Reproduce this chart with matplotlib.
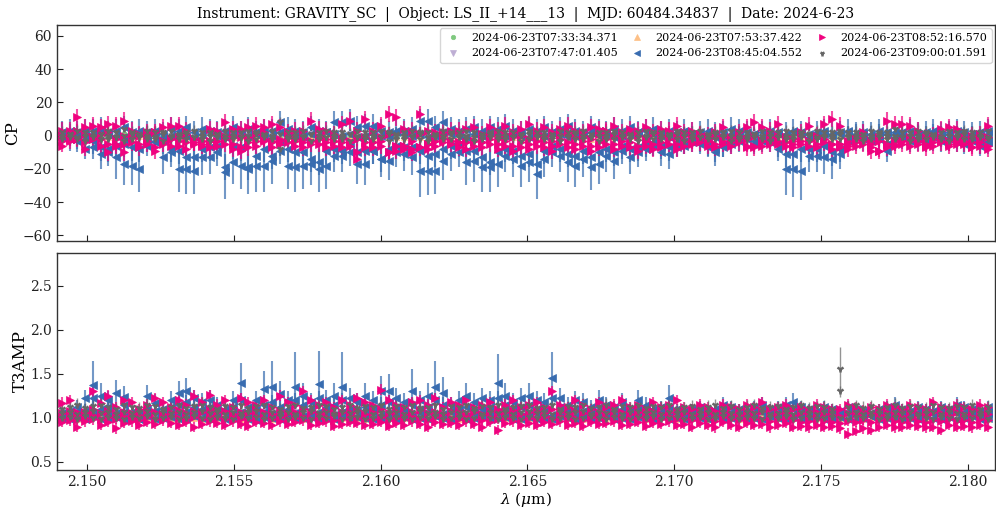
import matplotlib
matplotlib.use("Agg")
import matplotlib.pyplot as plt
from matplotlib.lines import Line2D
import numpy as np

plt.rcParams['font.family'] = ['DejaVu Serif']
plt.rcParams['mathtext.fontset'] = 'dejavuserif'

TITLE = "Instrument: GRAVITY_SC  |  Object: LS_II_+14___13  |  MJD: 60484.34837  |  Date: 2024-6-23"
OBS = ["2024-06-23T07:33:34.371", "2024-06-23T07:47:01.405", "2024-06-23T07:53:37.422",
       "2024-06-23T08:45:04.552", "2024-06-23T08:52:16.570", "2024-06-23T09:00:01.591"]

# wavelength channels (micron)
WL = [2.14914,2.14941,2.14967,2.14994,2.15020,2.15047,2.15073,2.15100,2.15126,2.15153,2.15179,2.15206,2.15232,2.15259,2.15285,2.15312,2.15338,2.15365,2.15391,2.15418,
      2.15444,2.15471,2.15497,2.15524,2.15550,2.15577,2.15603,2.15630,2.15656,2.15683,2.15709,2.15736,2.15762,2.15789,2.15815,2.15842,2.15868,2.15895,2.15921,2.15948,
      2.15974,2.16001,2.16027,2.16054,2.16080,2.16107,2.16133,2.16160,2.16186,2.16213,2.16239,2.16266,2.16292,2.16319,2.16345,2.16372,2.16398,2.16425,2.16451,2.16478,
      2.16504,2.16531,2.16557,2.16584,2.16610,2.16637,2.16663,2.16690,2.16716,2.16743,2.16769,2.16796,2.16822,2.16849,2.16875,2.16902,2.16928,2.16955,2.16981,2.17008,
      2.17034,2.17061,2.17087,2.17114,2.17140,2.17167,2.17193,2.17220,2.17246,2.17273,2.17299,2.17326,2.17352,2.17379,2.17405,2.17432,2.17458,2.17485,2.17511,2.17538,
      2.17564,2.17591,2.17617,2.17644,2.17670,2.17697,2.17723,2.17750,2.17776,2.17803,2.17829,2.17856,2.17882,2.17909,2.17935,2.17962,2.17988,2.18015,2.18041,2.18068]

# ---------------- CP (deg) ----------------
# obs 4 (08:45, blue), four triangles
cp_b1 = [-1,-2,-3,-8,-7,-11,-10,-13,-17,-18,-20,-6,-4,-13,-10,-20,-20,-21,-13,-13,
         -10,-22,-16,-18,-20,-18,-18,-15,-9,-18,-19,-18,-17,-20,-18,-12,-12,-5,-17,-17,
         -9,-14,-15,-10,-11,-13,-21,-21,-21,-15,-11,-10,-16,-15,-19,-19,-17,-12,-14,-18,
         -16,-23,-14,-10,-12,-16,-18,-14,-19,-17,-12,-15,-9,-13,-10,-8,-6,-10,-11,-7,
         -6,-4,-5,-7,-10,-7,-5,-3,-2,-5,-3,-4,-8,-20,-20,-21,-12,-12,-13,-14,
         -11,-3,-1,-2,-3,-2,-9,-2,-1,-3,-2,-4,-1,-3,-2,-4,-5,-3,-6,-4]
cp_b1_err = [4,4,5,6,7,9,8,13,13,12,14,6,5,10,9,14,15,14,11,10,
             8,16,13,14,15,16,16,14,8,14,15,14,13,14,14,10,10,6,12,13,
             8,11,12,9,10,11,16,15,14,12,10,9,14,13,15,15,14,10,11,13,
             12,15,11,9,10,12,13,11,14,12,10,11,8,10,9,7,6,8,9,6,
             5,4,5,6,8,6,5,4,4,5,4,4,7,16,17,18,10,10,10,12,
             9,4,3,3,4,3,7,3,3,4,3,4,3,4,3,4,5,4,5,4]
cp_b2 = [0,-1,-2,-2,-3,-7,-8,-6,-5,-7,-8,-2,-3,-3,-8,-9,-13,-13,-8,-7,
         -6,-19,-6,-7,-19,-12,-8,-12,-4,-8,-10,-10,-14,-16,-9,-8,-9,-10,-10,-9,
         -9,-14,-8,-6,-7,-7,-9,-12,-11,-8,-6,-5,-9,-9,-13,-16,-10,-8,-9,-12,
         -11,-17,-9,-6,-8,-11,-12,-9,-13,-10,-8,-10,-6,-8,-7,-5,-4,-6,-7,-4,
         -3,-2,-3,-4,-8,-5,-3,-2,-1,-3,-2,-2,-5,-11,-11,-8,-8,-8,-6,-10,
         -8,-2,-1,-1,-2,-1,-5,-1,0,-2,-1,-2,-1,-2,-1,-2,-3,-2,-4,-3]
cp_b3 = [1,2,1,0,1,2,1,0,-1,1,2,0,1,-1,0,1,0,-1,1,2,
         0,-1,1,2,0,1,-1,0,2,1,0,-1,1,0,2,1,0,1,-1,0,
         1,0,-1,2,1,0,1,-1,0,2,1,0,-1,1,0,2,1,0,1,0,
         -1,1,0,2,1,-1,0,1,2,0,1,-1,0,1,2,0,1,0,-1,1,
         2,1,0,1,-1,0,1,2,0,1,-1,0,1,0,2,1,-1,0,1,0,
         1,2,0,1,-1,0,1,2,1,0,1,-1,2,0,1,2,0,1,0,1]
cp_b4 = [2,3,2,3,3,4,2,3,5,2,3,2,3,1,4,3,5,2,4,3,
         2,3,5,2,4,2,3,3,8,4,3,2,5,3,2,8,8,9,5,6,
         6,3,2,3,3,4,9,9,5,8,4,3,4,5,3,5,4,6,3,2,
         4,3,5,2,4,6,3,2,5,3,2,4,3,5,2,3,4,2,3,2,
         3,1,2,3,1,2,4,3,2,1,2,3,2,1,3,2,1,2,3,1,
         2,3,1,2,1,3,2,1,2,3,1,2,3,1,2,3,2,1,2,3]
# obs 5 (08:52, pink)
cp_p1 = [3,3,11,5,6,5,7,6,9,3,1,2,2,5,6,6,3,-2,-3,4,
         3,8,4,4,5,6,5,7,5,2,3,3,9,4,3,1,7,9,3,10,
         3,6,13,11,4,3,13,3,2,2,3,3,4,5,1,5,3,6,2,4,
         7,3,5,2,4,6,3,2,5,4,3,6,2,4,3,5,2,4,3,6,
         2,3,1,0,2,5,-1,2,5,8,5,3,7,-1,-2,2,6,0,7,10,
         6,-3,-2,2,-3,-1,9,7,7,6,3,-1,0,4,5,4,-1,0,1,6]
cp_p2 = [0,0,-2,1,-1,1,2,-2,0,-1,0,1,2,-3,-2,-1,1,-2,-3,-3,
         -3,0,-1,-1,-1,1,2,-3,-2,2,-2,-2,-3,-1,-2,-3,-2,-3,-2,-1,
         -4,-1,1,-6,-6,-3,1,-5,-3,0,-3,-4,-4,-3,-4,0,-2,1,-1,0,
         -2,1,0,-3,1,2,-1,0,-2,1,3,0,-1,2,0,-2,1,0,2,-1,
         0,-1,1,-3,0,-1,-2,0,-2,0,-3,-1,0,-1,-3,0,-3,-1,-2,-5,
         -5,-5,-2,0,-5,-3,-5,-3,-3,-1,-3,-5,-2,-1,-3,-2,-3,-4,-2,-1]
cp_p3 = [-6,-2,3,-8,-1,-2,-5,-5,-5,-1,-5,-3,-7,-3,-2,-3,-4,-5,-5,-3,
         -3,-2,-5,-7,-4,-3,-2,-4,-3,-1,-3,-4,-3,-2,-4,-3,-4,-4,-14,-4,
         -4,-3,-10,-6,-6,-8,-7,-5,-3,-2,-3,-4,-4,-3,-4,-2,-5,-3,-6,-4,
         -5,-3,-4,-6,-2,-4,-5,-3,-6,-4,-2,-5,-3,-4,-6,-3,-5,-4,-2,-5,
         -3,-4,-2,-3,-5,-3,-4,-2,-6,-6,-3,-4,-3,-4,-5,-3,-3,-5,-2,-5,
         -5,-6,-4,-3,-7,-9,-5,-5,-3,-3,-3,-6,-4,-3,-5,-3,-4,-7,-4,-6]
cp_p4 = [-3,-3,-2,-4,-2,-6,-10,-6,-10,-4,-7,-5,-9,-5,-6,-6,-8,-4,-6,-7,
         -6,-5,-8,-9,-7,-6,-3,-7,-5,-4,-6,-7,-5,-5,-7,-6,-7,-6,-10,-7,
         -7,-6,-10,-9,-8,-10,-7,-8,-6,-4,-5,-7,-8,-6,-7,-5,-8,-6,-9,-7,
         -8,-6,-7,-9,-5,-7,-8,-6,-9,-7,-5,-8,-6,-7,-9,-6,-8,-7,-5,-8,
         -6,-5,-4,-6,-7,-5,-6,-4,-7,-7,-6,-5,-5,-6,-7,-5,-6,-7,-4,-8,
         -7,-8,-6,-5,-9,-9,-7,-6,-5,-6,-5,-7,-6,-4,-6,-5,-5,-7,-6,-8]
# obs 6 (09:00, gray)
cp_g1 = [2,1,3,2,2,1,3,2,4,2,1,3,2,2,3,1,2,3,2,2,
         1,3,2,2,3,2,1,3,8,2,2,3,1,2,3,2,2,1,3,2,
         2,3,2,1,2,3,2,2,1,3,2,2,3,2,1,2,3,2,2,1,
         3,2,2,1,3,2,2,3,1,2,2,3,2,1,2,3,2,2,1,3,
         2,2,3,1,2,2,3,2,2,1,3,2,2,3,2,2,1,3,2,2,
         3,2,2,1,3,2,2,4,2,2,3,2,1,2,3,2,3,2,2,3]
cp_g2 = [0,1,-1,0,0,1,0,-1,0,1,0,0,-1,1,0,0,1,-1,0,0,
         1,0,0,-1,0,1,0,0,1,-1,0,0,1,0,-1,0,0,1,0,0,
         0,-1,1,0,0,0,1,-1,0,0,1,0,0,-1,0,1,0,0,-1,0,
         1,0,0,-1,0,0,1,0,-1,0,0,1,0,0,-1,0,1,0,0,1,
         0,0,-1,0,1,0,0,-1,0,1,0,0,-1,0,0,1,0,-1,0,0,
         1,0,0,-1,0,1,0,0,-1,0,0,1,0,-1,0,0,1,0,0,-1]
cp_g3 = [-2,-1,-2,-3,-1,-2,-2,-1,-3,-2,-1,-2,-2,-3,-1,-2,-2,-1,-2,-3,
         -1,-2,-2,-1,-3,-2,-1,-2,-8,-2,-2,-1,-3,-2,-1,-2,-2,-3,-1,-2,
         -2,-1,-3,-2,-2,-1,-2,-3,-1,-2,-2,-1,-2,-3,-2,-1,-2,-2,-1,-3,
         -2,-1,-2,-2,-3,-1,-2,-2,-1,-3,-2,-2,-1,-2,-3,-1,-2,-2,-1,-2,
         -3,-2,-1,-2,-2,-1,-3,-2,-2,-1,-2,-3,-1,-2,-2,-1,-3,-2,-1,-2,
         -2,-1,-2,-3,-2,-1,-2,-2,-1,-3,-2,-2,-1,-2,-3,-1,-2,-2,-1,-2]
# obs 3 (07:53, orange), obs 1 (green), obs 2 (purple)
cp_o1 = [-1,0,-1,-2,0,-1,-1,0,-2,-1,0,-1,-1,-2,0,-1,-1,0,-1,-2,
         0,-1,-1,0,-2,-1,0,-1,-1,0,-2,-1,0,-1,-1,-2,0,-1,-1,0,
         -1,-2,0,-1,-1,0,-1,-2,0,-1,-1,0,-2,-1,0,-1,-1,0,-1,-2,
         0,-1,-1,-2,0,-1,-1,0,-2,-1,0,-1,-1,0,-1,-2,0,-1,-1,0,
         -1,0,-2,-1,0,-1,-1,-2,0,-1,-1,0,-1,-2,0,-1,-1,0,-2,-1,
         0,-1,-1,0,-2,-1,0,-1,-1,-2,0,-1,-1,0,-1,-2,0,-1,-1,0]
cp_n1 = [0,1,0,0,1,0,-1,0,1,0,0,1,0,0,-1,0,1,0,0,1,
         0,0,1,0,-1,0,0,1,0,0,1,0,0,-1,0,1,0,0,1,0,
         1,0,0,-1,0,1,0,0,1,0,0,-1,0,1,0,0,1,0,0,-1,
         0,1,0,0,1,0,-1,0,0,1,0,0,1,0,-1,0,0,1,0,0,
         1,0,0,1,0,-1,0,0,1,0,0,1,0,0,-1,0,1,0,0,1,
         0,0,1,0,-1,0,1,0,0,1,0,0,-1,0,1,0,0,1,0,0]
cp_v1 = [1,0,0,1,0,0,1,0,-1,0,1,0,0,1,0,0,-1,0,1,0,
         0,1,0,0,1,0,-1,0,0,1,0,0,1,0,0,-1,0,1,0,0,
         1,0,0,1,0,-1,0,0,1,0,0,1,0,-1,0,0,1,0,0,1,
         0,0,1,0,-1,0,0,1,0,0,1,0,0,-1,0,1,0,0,1,0,
         0,1,0,0,-1,0,1,0,0,1,0,0,1,0,-1,0,0,1,0,0,
         1,0,0,-1,0,1,0,0,1,0,0,-1,0,1,0,0,1,0,0,1]

# ---------------- T3AMP ----------------
t3_b1 = [1.05,1.08,1.12,1.22,1.37,1.25,1.20,1.28,1.24,1.06,0.98,1.25,1.17,1.10,1.20,1.28,1.30,1.22,1.18,1.20,
         1.15,1.10,1.20,1.40,1.12,1.20,1.33,1.35,1.27,1.20,1.35,1.25,1.18,1.38,1.20,1.25,1.35,1.22,1.18,1.25,
         1.20,1.30,1.30,1.22,1.18,1.30,1.20,1.25,1.35,1.28,1.15,1.20,1.25,1.18,1.22,1.20,1.40,1.25,1.18,1.22,
         1.25,1.20,1.18,1.45,1.22,1.15,1.20,1.18,1.12,1.20,1.15,1.12,1.18,1.10,1.20,1.15,1.10,1.12,1.22,1.10,
         1.08,1.10,1.12,1.08,1.10,1.15,1.12,1.10,1.08,1.12,1.15,1.10,1.12,1.15,1.18,1.12,1.10,1.08,1.12,1.10,
         1.08,1.12,1.10,1.08,1.05,1.10,1.12,1.15,1.10,1.08,1.12,1.10,1.08,1.12,1.10,1.15,1.12,1.10,1.08,1.12]
t3_b1_err = [0.05,0.06,0.08,0.10,0.27,0.15,0.10,0.15,0.12,0.06,0.05,0.12,0.10,0.08,0.10,0.14,0.15,0.10,0.10,0.12,
             0.08,0.07,0.10,0.22,0.08,0.10,0.20,0.30,0.15,0.10,0.40,0.15,0.10,0.38,0.12,0.15,0.40,0.12,0.10,0.15,
             0.10,0.18,0.20,0.12,0.10,0.25,0.10,0.15,0.30,0.18,0.08,0.10,0.15,0.10,0.12,0.10,0.33,0.15,0.10,0.12,
             0.15,0.10,0.10,0.30,0.12,0.08,0.10,0.10,0.08,0.12,0.08,0.07,0.10,0.06,0.12,0.08,0.06,0.07,0.15,0.06,
             0.05,0.06,0.07,0.05,0.06,0.08,0.07,0.06,0.05,0.07,0.08,0.06,0.07,0.08,0.10,0.07,0.06,0.05,0.07,0.06,
             0.05,0.07,0.06,0.05,0.04,0.06,0.07,0.08,0.06,0.05,0.07,0.06,0.05,0.07,0.06,0.08,0.07,0.06,0.05,0.07]
t3_b2 = [1.02,1.04,1.06,1.08,1.22,1.10,1.12,1.05,1.15,1.02,1.00,1.10,1.08,1.05,1.12,1.15,1.18,1.12,1.10,1.12,
         1.08,1.05,1.12,1.20,1.06,1.10,1.15,1.18,1.12,1.10,1.20,1.15,1.10,1.22,1.12,1.15,1.20,1.10,1.08,1.12,
         1.10,1.15,1.18,1.12,1.08,1.15,1.10,1.12,1.20,1.15,1.08,1.10,1.12,1.08,1.10,1.12,1.22,1.15,1.10,1.12,
         1.15,1.10,1.08,1.22,1.12,1.08,1.10,1.08,1.05,1.12,1.08,1.05,1.10,1.04,1.10,1.08,1.05,1.06,1.12,1.05,
         1.04,1.05,1.06,1.04,1.05,1.08,1.06,1.05,1.04,1.06,1.08,1.05,1.06,1.08,1.10,1.06,1.05,1.04,1.06,1.05,
         1.04,1.06,1.05,1.04,1.02,1.05,1.06,1.08,1.05,1.04,1.06,1.05,1.04,1.06,1.05,1.08,1.06,1.05,1.04,1.06]
t3_b3 = [1.04,1.02,1.06,1.03,1.05,1.07,1.04,1.02,1.06,1.03,1.05,1.04,1.07,1.02,1.05,1.04,1.06,1.03,1.05,1.07,
         1.03,1.05,1.04,1.06,1.02,1.05,1.07,1.04,1.03,1.06,1.05,1.02,1.04,1.07,1.05,1.03,1.06,1.04,1.02,1.05,
         1.06,1.03,1.05,1.04,1.07,1.02,1.05,1.06,1.03,1.04,1.06,1.05,1.02,1.04,1.07,1.03,1.05,1.06,1.04,1.02,
         1.05,1.04,1.06,1.03,1.05,1.07,1.02,1.04,1.06,1.03,1.05,1.04,1.02,1.06,1.04,1.03,1.05,1.06,1.02,1.04,
         1.03,1.05,1.02,1.04,1.06,1.03,1.02,1.05,1.04,1.03,1.06,1.02,1.04,1.05,1.03,1.02,1.04,1.06,1.03,1.05,
         1.02,1.04,1.03,1.05,1.02,1.04,1.06,1.03,1.02,1.05,1.04,1.03,1.06,1.02,1.04,1.05,1.03,1.04,1.02,1.05]
t3_b4 = [1.00,0.98,1.01,0.99,1.02,0.98,1.00,1.01,0.97,1.00,0.99,1.02,0.98,1.00,1.01,0.99,0.98,1.02,1.00,0.99,
         1.01,0.98,1.00,1.02,0.99,0.97,1.01,1.00,0.98,1.02,0.99,1.00,1.01,0.98,1.00,0.99,1.02,0.98,1.01,1.00,
         0.98,1.00,1.02,0.99,1.01,0.98,1.00,0.99,1.02,1.00,0.98,1.01,0.99,1.00,1.02,0.98,1.00,1.01,0.99,0.98,
         1.01,0.99,1.00,0.98,1.02,1.00,0.99,1.01,0.98,1.00,1.02,0.99,1.00,0.98,1.01,1.00,0.99,1.02,0.98,1.00,
         0.99,1.01,1.00,0.98,1.02,0.99,1.00,1.01,0.98,1.00,0.99,1.02,1.00,0.98,1.01,0.99,1.00,1.02,0.98,1.00,
         1.01,0.99,0.98,1.00,1.02,0.99,1.00,1.01,0.98,1.00,0.99,1.02,1.00,0.98,1.01,0.99,1.00,1.02,0.98,1.00]
t3_p1 = [1.17,1.20,1.07,1.05,1.30,1.17,1.25,1.12,1.20,1.18,1.10,1.15,1.22,1.18,1.12,1.20,1.15,1.25,1.18,1.26,
         1.15,1.20,1.12,1.22,1.18,1.15,1.20,1.12,1.25,1.18,1.15,1.30,1.20,1.15,1.18,1.12,1.20,1.15,1.22,1.18,
         1.15,1.32,1.20,1.15,1.12,1.18,1.20,1.15,1.22,1.12,1.18,1.15,1.20,1.12,1.15,1.18,1.10,1.15,1.20,1.12,
         1.15,1.18,1.12,1.30,1.15,1.12,1.20,1.15,1.10,1.18,1.12,1.15,1.20,1.12,1.15,1.10,1.18,1.12,1.15,1.20,
         1.12,1.10,1.15,1.12,1.08,1.15,1.12,1.10,1.15,1.12,1.18,1.10,1.12,1.15,1.10,1.12,1.08,1.15,1.12,1.10,
         1.10,1.15,1.12,1.08,1.12,1.10,1.15,1.12,1.10,1.15,1.12,1.10,1.18,1.12,1.10,1.15,1.12,1.10,1.15,1.12]
t3_p2 = [1.05,1.08,1.03,1.06,1.10,1.05,1.08,1.04,1.07,1.05,1.03,1.08,1.06,1.04,1.07,1.09,1.05,1.08,1.06,1.10,
         1.06,1.08,1.04,1.07,1.05,1.09,1.06,1.04,1.08,1.05,1.07,1.10,1.06,1.04,1.08,1.05,1.07,1.06,1.09,1.04,
         1.07,1.10,1.05,1.08,1.04,1.06,1.09,1.05,1.07,1.04,1.08,1.06,1.05,1.07,1.04,1.08,1.05,1.06,1.09,1.04,
         1.06,1.08,1.05,1.10,1.06,1.04,1.08,1.05,1.03,1.07,1.05,1.08,1.06,1.04,1.07,1.05,1.08,1.04,1.06,1.08,
         1.05,1.03,1.07,1.05,1.02,1.06,1.04,1.03,1.07,1.05,1.08,1.03,1.05,1.06,1.03,1.05,1.02,1.06,1.04,1.03,
         1.02,1.05,1.04,1.01,1.05,1.03,1.06,1.04,1.02,1.06,1.04,1.03,1.07,1.05,1.03,1.06,1.04,1.02,1.06,1.04]
t3_p3 = [0.99,1.02,0.97,1.00,1.03,0.99,1.01,0.98,1.02,1.00,0.97,1.01,0.99,0.98,1.02,1.00,0.98,1.01,0.99,1.02,
         1.00,0.98,1.01,0.99,0.97,1.02,1.00,0.98,1.01,0.99,1.00,1.02,0.98,1.00,1.01,0.97,0.99,1.02,1.00,0.98,
         0.99,1.01,0.97,1.00,0.98,1.02,0.99,0.97,1.01,0.99,1.00,0.98,1.02,0.99,0.97,1.01,0.98,1.00,1.02,0.99,
         1.00,0.98,1.01,0.99,1.02,0.98,1.00,0.97,1.01,0.99,1.00,1.02,0.98,0.99,1.01,0.97,1.00,0.99,1.02,0.98,
         0.99,0.97,1.00,0.98,0.96,1.01,0.98,0.97,1.00,0.98,0.99,0.96,0.98,1.00,0.97,0.95,0.96,0.98,0.96,0.95,
         0.94,0.96,0.95,0.97,0.95,0.97,0.98,0.96,0.95,0.98,0.96,0.95,0.97,0.96,0.98,0.96,0.97,0.95,0.98,0.97]
t3_p4 = [0.95,0.97,0.90,0.96,0.98,0.92,0.95,0.88,0.94,0.96,0.92,0.95,0.93,0.97,0.94,0.92,0.95,0.90,0.93,0.96,
         0.94,0.92,0.96,0.93,0.91,0.95,0.94,0.92,0.96,0.93,0.95,0.97,0.92,0.94,0.96,0.91,0.93,0.95,0.94,0.92,
         0.93,0.95,0.91,0.94,0.92,0.96,0.93,0.90,0.95,0.93,0.94,0.92,0.96,0.93,0.90,0.95,0.86,0.94,0.96,0.92,
         0.94,0.92,0.95,0.93,0.96,0.92,0.94,0.91,0.95,0.93,0.94,0.96,0.92,0.93,0.95,0.91,0.94,0.93,0.96,0.92,
         0.93,0.90,0.94,0.92,0.89,0.95,0.92,0.90,0.94,0.92,0.93,0.89,0.92,0.94,0.90,0.91,0.89,0.92,0.90,0.91,
         0.88,0.82,0.85,0.88,0.86,0.90,0.92,0.89,0.90,0.92,0.91,0.89,0.90,0.86,0.92,0.90,0.91,0.89,0.92,0.90]
t3_g1 = [1.10,1.12,1.14,1.11,1.13,1.15,1.12,1.10,1.14,1.12,1.11,1.15,1.13,1.10,1.12,1.14,1.11,1.13,1.15,1.12,
         1.10,1.13,1.12,1.15,1.11,1.13,1.14,1.12,1.10,1.13,1.15,1.11,1.12,1.14,1.13,1.10,1.12,1.15,1.11,1.13,
         1.12,1.14,1.10,1.13,1.12,1.15,1.11,1.12,1.14,1.10,1.13,1.12,1.15,1.11,1.13,1.12,1.14,1.10,1.12,1.13,
         1.15,1.11,1.12,1.14,1.10,1.13,1.12,1.15,1.11,1.12,1.14,1.10,1.13,1.12,1.15,1.11,1.13,1.12,1.14,1.10,
         1.12,1.13,1.10,1.12,1.14,1.11,1.13,1.10,1.12,1.14,1.11,1.12,1.13,1.10,1.12,1.14,1.11,1.13,1.12,1.10,
         1.55,1.12,1.14,1.11,1.13,1.10,1.12,1.14,1.11,1.13,1.12,1.10,1.14,1.12,1.11,1.13,1.12,1.14,1.10,1.12]
t3_g1_err = [0.06,0.07,0.08,0.06,0.07,0.09,0.06,0.07,0.08,0.06,0.07,0.08,0.06,0.07,0.06,0.08,0.07,0.06,0.08,0.07,
             0.06,0.07,0.08,0.06,0.07,0.08,0.06,0.09,0.07,0.06,0.08,0.07,0.06,0.07,0.08,0.06,0.07,0.08,0.06,0.07,
             0.08,0.06,0.07,0.08,0.06,0.07,0.08,0.06,0.07,0.06,0.08,0.07,0.06,0.07,0.08,0.06,0.07,0.08,0.06,0.07,
             0.06,0.07,0.08,0.06,0.07,0.06,0.08,0.07,0.06,0.07,0.08,0.06,0.07,0.06,0.08,0.07,0.06,0.07,0.08,0.06,
             0.06,0.07,0.06,0.08,0.07,0.06,0.07,0.06,0.08,0.07,0.06,0.07,0.06,0.08,0.07,0.06,0.07,0.06,0.08,0.07,
             0.25,0.07,0.06,0.08,0.07,0.06,0.07,0.08,0.06,0.07,0.06,0.08,0.07,0.06,0.07,0.08,0.06,0.07,0.06,0.08]
t3_g2 = [1.05,1.07,1.04,1.06,1.08,1.05,1.06,1.04,1.07,1.05,1.06,1.08,1.04,1.06,1.05,1.07,1.04,1.06,1.08,1.05,
         1.06,1.04,1.07,1.05,1.06,1.08,1.04,1.06,1.05,1.07,1.04,1.06,1.08,1.05,1.06,1.04,1.07,1.05,1.06,1.08,
         1.04,1.06,1.05,1.07,1.04,1.06,1.08,1.05,1.06,1.04,1.07,1.05,1.06,1.08,1.04,1.06,1.05,1.07,1.04,1.06,
         1.08,1.05,1.06,1.04,1.07,1.05,1.06,1.08,1.04,1.06,1.05,1.07,1.04,1.06,1.08,1.05,1.06,1.04,1.07,1.05,
         1.06,1.04,1.05,1.07,1.04,1.06,1.05,1.04,1.07,1.05,1.06,1.04,1.05,1.07,1.04,1.06,1.05,1.04,1.06,1.05,
         1.30,1.05,1.07,1.04,1.06,1.05,1.04,1.07,1.05,1.06,1.04,1.05,1.07,1.04,1.06,1.05,1.04,1.06,1.05,1.07]
t3_g3 = [1.00,1.01,0.99,1.02,1.00,0.99,1.01,1.00,0.98,1.01,1.00,1.02,0.99,1.00,1.01,0.99,1.00,1.02,1.00,0.99,
         1.01,1.00,0.99,1.02,1.00,1.01,0.99,1.00,1.02,0.99,1.01,1.00,0.99,1.01,1.00,1.02,0.99,1.00,1.01,0.99,
         1.00,1.02,0.99,1.01,1.00,0.99,1.01,1.00,1.02,0.99,1.00,1.01,0.99,1.00,1.02,1.00,0.99,1.01,1.00,0.99,
         1.01,1.00,1.02,0.99,1.00,1.01,0.99,1.00,1.02,1.00,0.99,1.01,1.00,0.99,1.01,1.00,1.02,0.99,1.00,1.01,
         0.99,1.00,1.01,0.99,1.00,1.02,1.00,0.99,1.01,1.00,0.99,1.01,1.00,1.02,0.99,1.00,1.01,0.99,1.00,1.01,
         1.00,0.99,1.01,1.00,1.02,0.99,1.00,1.01,0.99,1.00,1.02,1.00,0.99,1.01,1.00,0.99,1.01,1.00,1.02,0.99]
t3_o1 = [1.00,1.02,0.99,1.01,1.03,1.00,0.99,1.02,1.00,1.01,0.99,1.00,1.02,1.01,0.99,1.00,1.02,1.00,0.99,1.01,
         1.00,1.02,1.00,0.99,1.01,1.00,1.02,0.99,1.00,1.01,1.00,0.99,1.02,1.00,1.01,0.99,1.00,1.02,1.00,0.99,
         1.01,1.00,1.02,0.99,1.00,1.01,1.00,0.99,1.02,1.00,1.01,0.99,1.00,1.02,1.00,0.99,1.01,1.00,1.02,0.99,
         1.00,1.01,1.00,0.99,1.02,1.00,1.01,0.99,1.00,1.02,1.00,0.99,1.01,1.00,1.02,0.99,1.00,1.01,1.00,0.99,
         1.02,1.00,1.01,0.99,1.00,1.02,1.00,0.99,1.01,1.00,1.02,0.99,1.00,1.01,1.00,0.99,1.02,1.00,1.01,0.99,
         1.00,1.02,1.00,0.99,1.01,1.00,1.02,0.99,1.00,1.01,1.00,0.99,1.02,1.00,1.01,0.99,1.00,1.02,1.00,0.99]
t3_n1 = [1.05,1.06,1.04,1.05,1.07,1.05,1.04,1.06,1.05,1.07,1.04,1.05,1.06,1.05,1.04,1.06,1.05,1.07,1.04,1.05,
         1.06,1.05,1.04,1.06,1.05,1.07,1.04,1.05,1.06,1.05,1.04,1.06,1.05,1.07,1.04,1.05,1.06,1.05,1.04,1.06,
         1.05,1.07,1.04,1.05,1.06,1.05,1.04,1.06,1.05,1.07,1.04,1.05,1.06,1.05,1.04,1.06,1.05,1.07,1.04,1.05,
         1.06,1.05,1.04,1.06,1.05,1.07,1.04,1.05,1.06,1.05,1.04,1.06,1.05,1.07,1.04,1.05,1.06,1.05,1.04,1.06,
         1.05,1.07,1.04,1.05,1.06,1.05,1.04,1.06,1.05,1.07,1.04,1.05,1.06,1.05,1.04,1.06,1.05,1.07,1.04,1.05,
         1.06,1.05,1.04,1.06,1.05,1.07,1.04,1.05,1.06,1.05,1.04,1.06,1.05,1.07,1.04,1.05,1.06,1.05,1.04,1.06]
t3_v1 = [1.06,1.05,1.07,1.04,1.06,1.05,1.07,1.06,1.04,1.05,1.06,1.07,1.05,1.04,1.06,1.05,1.07,1.06,1.04,1.05,
         1.06,1.07,1.05,1.04,1.06,1.05,1.07,1.06,1.04,1.05,1.06,1.07,1.05,1.04,1.06,1.05,1.07,1.06,1.04,1.05,
         1.06,1.07,1.05,1.04,1.06,1.05,1.07,1.06,1.04,1.05,1.06,1.07,1.05,1.04,1.06,1.05,1.07,1.06,1.04,1.05,
         1.06,1.07,1.05,1.04,1.06,1.05,1.07,1.06,1.04,1.05,1.06,1.07,1.05,1.04,1.06,1.05,1.07,1.06,1.04,1.05,
         1.06,1.07,1.05,1.04,1.06,1.05,1.07,1.06,1.04,1.05,1.06,1.07,1.05,1.04,1.06,1.05,1.07,1.06,1.04,1.05,
         1.06,1.07,1.05,1.04,1.06,1.05,1.07,1.06,1.04,1.05,1.06,1.07,1.05,1.04,1.06,1.05,1.07,1.06,1.04,1.05]

COLORS = ['#7fc97f', '#beaed4', '#fdc086', '#386cb0', '#f0027f', '#666666']
MARKERS = ['o', 'v', '^', '<', '>', '1']

# (series index, values, errors)
CP_SETS = [
    (0, cp_n1, 3), (1, cp_v1, 3), (2, cp_o1, 3),
    (3, cp_b4, 7), (3, cp_b3, 3), (3, cp_b2, 8), (3, cp_b1, cp_b1_err),
    (4, cp_p4, 5), (4, cp_p3, 4), (4, cp_p2, 4), (4, cp_p1, 5),
    (5, cp_g3, 3.5), (5, cp_g2, 3), (5, cp_g1, 3.5),
]
T3_SETS = [
    (0, t3_n1, 0.05), (1, t3_v1, 0.05), (2, t3_o1, 0.05),
    (3, t3_b4, 0.05), (3, t3_b3, 0.05), (3, t3_b2, 0.08), (3, t3_b1, t3_b1_err),
    (4, t3_p4, 0.06), (4, t3_p3, 0.05), (4, t3_p2, 0.05), (4, t3_p1, 0.06),
    (5, t3_g3, 0.05), (5, t3_g2, 0.06), (5, t3_g1, t3_g1_err),
]

fig = plt.figure(figsize=(9.96, 5.13), dpi=100)
ax1 = fig.add_axes([0.0572, 0.530, 0.9418, 0.421])
ax2 = fig.add_axes([0.0572, 0.0838, 0.9418, 0.4232], sharex=ax1)

MS = {'o': 4.0, 'v': 5.0, '^': 5.0, '<': 5.5, '>': 5.5, '1': 5.0}
MEW = {'o': 0.5, 'v': 0.5, '^': 0.5, '<': 0.5, '>': 0.5, '1': 1.8}
ELW = {'o': 1.4, 'v': 1.4, '^': 1.4, '<': 1.5, '>': 1.5, '1': 1.0}

def draw(ax, sets):
    for idx, vals, err in sets:
        c = COLORS[idx]
        m = MARKERS[idx]
        ax.errorbar(WL, vals, yerr=err, fmt=m, color=c, ms=MS[m], mew=MEW[m],
                    ecolor=matplotlib.colors.to_rgba(c, 0.7), elinewidth=ELW[m], capsize=0)

draw(ax1, CP_SETS)
draw(ax2, T3_SETS)

for ax in (ax1, ax2):
    ax.tick_params(direction='in', length=4, labelsize=10, colors='#222222')
    for s in ax.spines.values():
        s.set_color('#333333')
        s.set_linewidth(1.0)
ax1.tick_params(labelbottom=False)
ax1.set_xlim(2.14898, 2.18092)
ax1.set_ylim(-63.5, 66.5)
ax1.set_yticks([-60, -40, -20, 0, 20, 40, 60])
ax2.set_ylim(0.405, 2.875)
ax2.set_yticks([0.5, 1.0, 1.5, 2.0, 2.5])
ax2.set_xticks([2.150, 2.155, 2.160, 2.165, 2.170, 2.175, 2.180])
ax2.set_xticklabels(['2.150', '2.155', '2.160', '2.165', '2.170', '2.175', '2.180'])
ax1.set_ylabel('CP', fontsize=12, labelpad=1)
ax2.set_ylabel('T3AMP', fontsize=12, labelpad=1)
ax2.set_xlabel(r'$\lambda\ (\mu$m$)$', fontsize=11, labelpad=1)
ax1.set_title(TITLE, fontsize=10, pad=5)

handles = [Line2D([], [], ls='none', marker=MARKERS[i], color=COLORS[i], ms=MS[MARKERS[i]],
                  mew=MEW[MARKERS[i]]) for i in range(6)]
ax1.legend(handles, OBS, ncol=3, loc='upper right',
           fontsize=8.0, borderaxespad=0.3, handlelength=1.5, handletextpad=0.9,
           columnspacing=1.0, markerscale=0.8)

fig.savefig('out.png', dpi=100)
